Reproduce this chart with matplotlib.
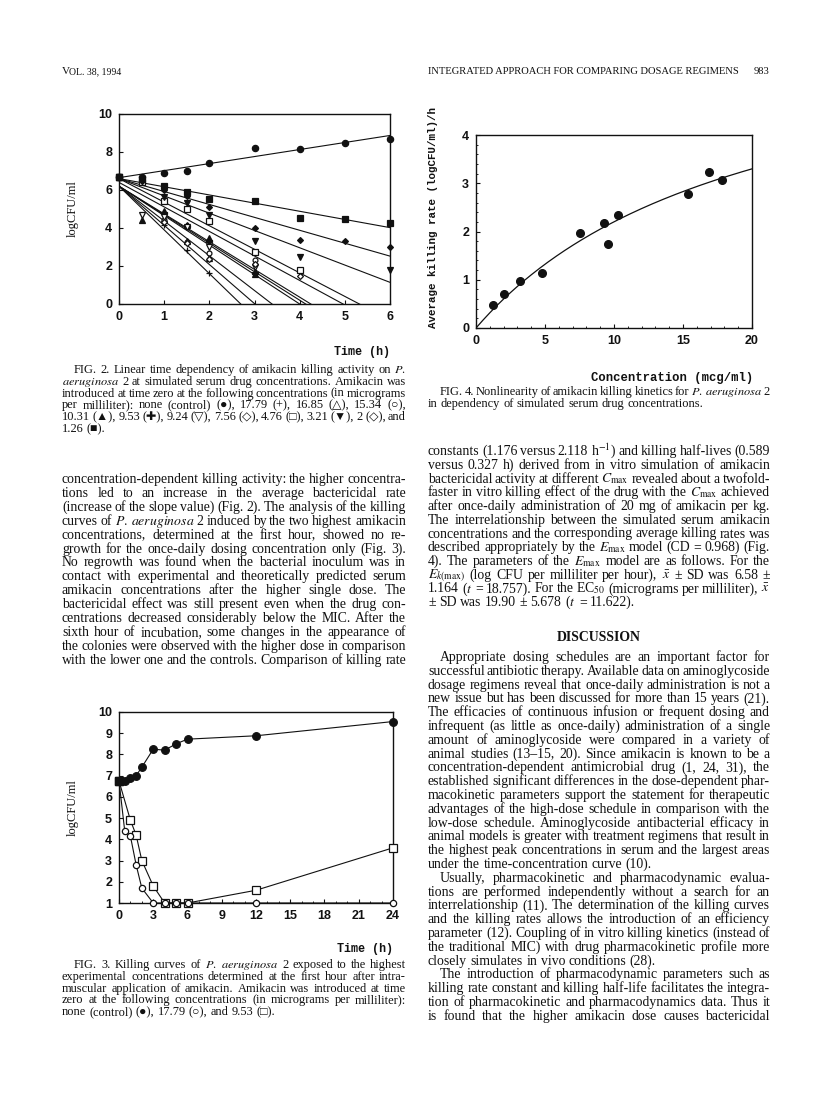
import matplotlib
matplotlib.use('Agg')
import matplotlib.pyplot as plt
import numpy as np
from matplotlib.ticker import MultipleLocator

plt.rcParams['mathtext.fontset'] = 'stix'
plt.rcParams['font.family'] = ['Liberation Serif', 'DejaVu Sans']

# ---------------- data ----------------
# Fig. 2: killing curves at 12 concentrations (0-6 h)
fig2_time = [0, 0.5, 1, 1.5, 2, 3, 4, 5, 6]
fig2_conc = ['control', '17.79', '16.85', '15.34', '10.31', '9.53', '9.24',
             '7.56', '4.76', '3.21', '2', '1.26']
nan = np.nan
fig2_values = {
    'control': [6.7, 6.7, 6.9, 7.0, 7.4, 8.2, 8.15, 8.45, 8.7],
    '17.79': [6.7, nan, 4.15, 2.85, 1.65, nan, nan, nan, nan],
    '16.85': [6.7, nan, 4.5, 3.3, 2.4, nan, nan, nan, nan],
    '15.34': [6.7, nan, 4.4, 3.25, 2.7, 2.3, nan, nan, nan],
    '10.31': [6.7, 4.4, 4.9, 4.15, 3.5, 1.6, nan, nan, nan],
    '9.53': [6.7, nan, 4.8, 4.1, 3.3, 1.65, nan, nan, nan],
    '9.24': [6.7, 4.7, 4.6, 4.05, 3.0, 1.95, nan, nan, nan],
    '7.56': [6.7, nan, 4.3, 3.2, 2.35, 2.1, 1.45, nan, nan],
    '4.76': [6.7, 6.4, 5.4, 5.0, 4.35, 2.75, 1.8, nan, nan],
    '3.21': [6.7, 6.5, 5.65, 5.3, 4.7, 3.3, 2.45, nan, 1.8],
    '2': [6.7, 6.5, 6.0, 5.7, 5.1, 4.0, 3.35, 3.3, 3.0],
    '1.26': [6.7, 6.6, 6.2, 5.9, 5.55, 5.4, 4.55, 4.45, 4.25],
}
# regression lines: intercept at t=0 and slope per hour
fig2_intercept = [6.65, 6.2, 6.2, 6.2, 6.2, 6.2, 6.2, 6.4, 6.6, 6.6, 6.6, 6.6]
fig2_slope = [0.37, -2.3, -2.06, -1.83, -1.55, -1.5, -1.46, -1.29, -1.24, -0.91, -0.68, -0.43]
fig2_marker = ['o', '+', '^', 'o', '^', 'P', 'v', 'D', 's', 'v', 'D', 's']
fig2_filled = [True, True, False, False, True, True, False, False, False, True, True, True]
fig2_msize = [4.5, 5, 4, 3.5, 4, 4.5, 4, 3, 4, 4, 3, 4]

# Fig. 3: killing curves 0-24 h
fig3_time = [0, 0.5, 1, 1.5, 2, 3, 4, 5, 6, 12, 24]
fig3_control = [6.75, 6.75, 6.9, 7.0, 7.4, 8.25, 8.2, 8.5, 8.72, 8.88, 9.55]
fig3_high = [6.75, 4.4, 4.15, 2.8, 1.7, 1.0, 1.0, 1.0, 1.0, 1.0, 1.0]
fig3_low = [6.75, nan, 4.9, 4.2, 3.0, 1.8, 1.0, 1.0, 1.0, 1.6, 3.6]

# Fig. 4: average killing rate vs concentration, Emax model
fig4_conc = [1.26, 2.0, 3.21, 4.76, 7.56, 9.24, 9.53, 10.31, 15.34, 16.85, 17.79]
fig4_rate = [0.47, 0.71, 0.98, 1.14, 1.96, 2.17, 1.74, 2.34, 2.77, 3.23, 3.06]
emax = 6.58
ec50 = 19.90

# ---------------- page text ----------------
# '>' = indented first line, '|' = last line of paragraph (not justified)
fig2_caption = [
    r'>FIG. 2. Linear time dependency of amikacin killing activity on $\mathit{P.}$',
    r'$\mathit{aeruginosa}$ 2 at simulated serum drug concentrations. Amikacin was',
    'introduced at time zero at the following concentrations (in micrograms',
    'per milliliter): none (control) (●), 17.79 (+), 16.85 (△), 15.34 (○),',
    '10.31 (▲), 9.53 (✚), 9.24 (▽), 7.56 (◇), 4.76 (□), 3.21 (▼), 2 (◇), and',
    '1.26 (■).|',
]
left_body = [
    'concentration-dependent killing activity: the higher concentra-',
    'tions led to an increase in the average bactericidal rate',
    '(increase of the slope value) (Fig. 2). The analysis of the killing',
    r'curves of $\mathit{P.}$ $\mathit{aeruginosa}$ 2 induced by the two highest amikacin',
    'concentrations, determined at the first hour, showed no re-',
    'growth for the once-daily dosing concentration only (Fig. 3).',
    'No regrowth was found when the bacterial inoculum was in',
    'contact with experimental and theoretically predicted serum',
    'amikacin concentrations after the higher single dose. The',
    'bactericidal effect was still present even when the drug con-',
    'centrations decreased considerably below the MIC. After the',
    'sixth hour of incubation, some changes in the appearance of',
    'the colonies were observed with the higher dose in comparison',
    'with the lower one and the controls. Comparison of killing rate',
]
fig3_caption = [
    r'>FIG. 3. Killing curves of $\mathit{P.}$ $\mathit{aeruginosa}$ 2 exposed to the highest',
    'experimental concentrations determined at the first hour after intra-',
    'muscular application of amikacin. Amikacin was introduced at time',
    'zero at the following concentrations (in micrograms per milliliter):',
    'none (control) (●), 17.79 (○), and 9.53 (□).|',
]
fig4_caption = [
    r'>FIG. 4. Nonlinearity of amikacin killing kinetics for $\mathit{P.}$ $\mathit{aeruginosa}$ 2',
    'in dependency of simulated serum drug concentrations.|',
]
right_top = [
    r'constants (1.176 versus 2.118 h$^{-1}$) and killing half-lives (0.589',
    'versus 0.327 h) derived from in vitro simulation of amikacin',
    r'bactericidal activity at different $C_\mathrm{max}$ revealed about a twofold-',
    r'faster in vitro killing effect of the drug with the $C_\mathrm{max}$ achieved',
    'after once-daily administration of 20 mg of amikacin per kg.',
    'The interrelationship between the simulated serum amikacin',
    'concentrations and the corresponding average killing rates was',
    r'described appropriately by the $E_\mathrm{max}$ model (CD = 0.968) (Fig.',
    r'4). The parameters of the $E_\mathrm{max}$ model are as follows. For the',
    r'$E_{k(\mathrm{max})}$ (log CFU per milliliter per hour), $\bar{x}$ ± SD was 6.58 ±',
    r'1.164 ($t$ = 18.757). For the EC$_{50}$ (micrograms per milliliter), $\bar{x}$',
    r'± SD was 19.90 ± 5.678 ($t$ = 11.622).|',
]
right_discussion = [
    '>Appropriate dosing schedules are an important factor for',
    'successful antibiotic therapy. Available data on aminoglycoside',
    'dosage regimens reveal that once-daily administration is not a',
    'new issue but has been discussed for more than 15 years (21).',
    'The efficacies of continuous infusion or frequent dosing and',
    'infrequent (as little as once-daily) administration of a single',
    'amount of aminoglycoside were compared in a variety of',
    'animal studies (13–15, 20). Since amikacin is known to be a',
    'concentration-dependent antimicrobial drug (1, 24, 31), the',
    'established significant differences in the dose-dependent phar-',
    'macokinetic parameters support the statement for therapeutic',
    'advantages of the high-dose schedule in comparison with the',
    'low-dose schedule. Aminoglycoside antibacterial efficacy in',
    'animal models is greater with treatment regimens that result in',
    'the highest peak concentrations in serum and the largest areas',
    'under the time-concentration curve (10).|',
    '>Usually, pharmacokinetic and pharmacodynamic evalua-',
    'tions are performed independently without a search for an',
    'interrelationship (11). The determination of the killing curves',
    'and the killing rates allows the introduction of an efficiency',
    'parameter (12). Coupling of in vitro killing kinetics (instead of',
    'the traditional MIC) with drug pharmacokinetic profile more',
    'closely simulates in vivo conditions (28).|',
    '>The introduction of pharmacodynamic parameters such as',
    'killing rate constant and killing half-life facilitates the integra-',
    'tion of pharmacokinetic and pharmacodynamics data. Thus it',
    'is found that the higher amikacin dose causes bactericidal',
]

# ---------------- figure ----------------
W, H = 816, 1095
INDENT = 12
fig = plt.figure(figsize=(W / 100, H / 100), dpi=100)
fig.patch.set_facecolor('white')
renderer = fig.canvas.get_renderer()
INK = '#111111'


def fx(x):
    return x / W


def fy(y):
    return 1 - y / H


def axes_px(l, t, r, b):
    return fig.add_axes([fx(l), fy(b), (r - l) / W, (b - t) / H])


def fit_size(lines, width, base=8.0, fill=0.975):
    # font size so that full lines need only slightly stretched spaces
    ratios = []
    for ln in lines:
        if ln.endswith('|'):
            continue
        target = width - (INDENT if ln.startswith('>') else 0)
        t = fig.text(0, 0, ln.lstrip('>'), fontsize=base)
        ratios.append(target / t.get_window_extent(renderer).width)
        t.remove()
    return base * float(np.median(ratios)) * fill


def text_line(x0, x1, y, line, size):
    # draws one justified line word by word
    justify = True
    if line.startswith('>'):
        line = line[1:]
        x0 += INDENT
    if line.endswith('|'):
        line = line[:-1]
        justify = False
    words = line.split(' ')
    arts = [fig.text(0, fy(y), w, fontsize=size, va='baseline', ha='left', color=INK)
            for w in words]
    widths = [a.get_window_extent(renderer).width for a in arts]
    gap = size * 0.25 * 100 / 72
    if justify and len(arts) > 1:
        gap = (x1 - x0 - sum(widths)) / (len(arts) - 1)
    x = x0
    for a, w in zip(arts, widths):
        a.set_x(fx(x))
        x += w + gap


def block(x0, x1, y0, step, lines, size):
    for i, ln in enumerate(lines):
        text_line(x0, x1, y0 + i * step, ln, size)


tick_fp = matplotlib.font_manager.FontProperties(family='Liberation Sans', weight='bold', size=9)
mono = dict(family='Liberation Mono', weight='bold', color=INK)


def style_axes(ax):
    for s in ax.spines.values():
        s.set_linewidth(1.0)
        s.set_color(INK)
    ax.tick_params(direction='in', length=3, width=0.8, pad=5, colors=INK)
    ax.tick_params(which='minor', direction='in', length=1.5, width=0.6)
    for lab in ax.get_xticklabels() + ax.get_yticklabels():
        lab.set_fontproperties(tick_fp)


body_size = fit_size(left_body + right_top + right_discussion, 344)
cap_size = fit_size(fig2_caption + fig3_caption + fig4_caption, 344)

# header
fig.text(fx(62), fy(74), 'V', fontsize=8, va='baseline', color=INK)
fig.text(fx(69), fy(74), 'OL. 38, 1994', fontsize=7, va='baseline', color=INK)
fig.text(fx(428), fy(74), 'INTEGRATED APPROACH FOR COMPARING DOSAGE REGIMENS',
         fontsize=7.6, va='baseline', color=INK)
fig.text(fx(769), fy(74), '983', fontsize=7.6, va='baseline', ha='right', color=INK)

# ----- Fig. 2 -----
ax2 = axes_px(119, 114, 390, 304)
t2 = np.array(fig2_time)
tline = np.array([0, 6])
for i, name in enumerate(fig2_conc):
    ax2.plot(tline, fig2_intercept[i] + fig2_slope[i] * tline, color=INK, lw=0.8)
    y = np.array(fig2_values[name])
    m = ~np.isnan(y)
    face = INK if fig2_filled[i] else 'white'
    ax2.plot(t2[m], y[m], linestyle='none', marker=fig2_marker[i], ms=fig2_msize[i],
             mfc=face, mec=INK, mew=0.9, clip_on=False, zorder=3)
ax2.set_xlim(0, 6)
ax2.set_ylim(0, 10)
ax2.xaxis.set_major_locator(MultipleLocator(1))
ax2.yaxis.set_major_locator(MultipleLocator(2))
style_axes(ax2)
fig.text(fx(73), fy(209), 'logCFU/ml', rotation=90, fontsize=9, ha='center', va='center',
         color=INK)
fig.text(fx(390), fy(352), 'Time (h)', fontsize=8.5, ha='right', va='center', **mono)
block(62, 406, 373, 11.8, fig2_caption, cap_size)

# ----- left body text -----
block(62, 406, 483, 13.9, left_body, body_size)

# ----- Fig. 3 -----
ax3 = axes_px(119, 712, 393, 903)
t3 = np.array(fig3_time)
for vals, mk, face, ms in [(fig3_control, 'o', INK, 5.5),
                           (fig3_low, 's', 'white', 5.5),
                           (fig3_high, 'o', 'white', 4.5)]:
    y = np.array(vals)
    m = ~np.isnan(y)
    ax3.plot(t3[m], y[m], color=INK, lw=0.8, marker=mk, ms=ms, mfc=face,
             mec=INK, mew=0.9, clip_on=False, zorder=3)
ax3.plot(fig3_time[:1], fig3_control[:1], marker='s', ms=5.5, color=INK, clip_on=False,
         zorder=4)
ax3.set_xlim(0, 24)
ax3.set_ylim(1, 10)
ax3.xaxis.set_major_locator(MultipleLocator(3))
ax3.xaxis.set_minor_locator(MultipleLocator(1))
ax3.yaxis.set_major_locator(MultipleLocator(1))
style_axes(ax3)
fig.text(fx(73), fy(808), 'logCFU/ml', rotation=90, fontsize=9, ha='center', va='center',
         color=INK)
fig.text(fx(393), fy(949), 'Time (h)', fontsize=8.5, ha='right', va='center', **mono)
block(62, 406, 968, 11.8, fig3_caption, cap_size)

# ----- Fig. 4 -----
ax4 = axes_px(476, 135, 752, 328)
cgrid = np.linspace(0, 20, 200)
ax4.plot(cgrid, emax * cgrid / (ec50 + cgrid), color=INK, lw=0.9)
ax4.plot(fig4_conc, fig4_rate, linestyle='none', marker='o', ms=5.5, color=INK, zorder=3)
ax4.set_xlim(0, 20)
ax4.set_ylim(0, 4)
ax4.xaxis.set_major_locator(MultipleLocator(5))
ax4.xaxis.set_minor_locator(MultipleLocator(1))
ax4.yaxis.set_major_locator(MultipleLocator(1))
ax4.yaxis.set_minor_locator(MultipleLocator(0.2))
style_axes(ax4)
fig.text(fx(433), fy(217), 'Average killing rate (logCFU/ml)/h', rotation=90,
         fontsize=7.8, ha='center', va='center', **mono)
fig.text(fx(753), fy(378), 'Concentration (mcg/ml)', fontsize=8.8, ha='right',
         va='center', **mono)
block(428, 770, 395, 11.8, fig4_caption, cap_size)

# ----- right column text -----
block(428, 770, 455, 13.75, right_top, body_size)
fig.text(fx(599), fy(641), 'DISCUSSION', fontsize=body_size, weight='bold', ha='center',
         va='baseline', color=INK)
block(428, 770, 661, 13.8, right_discussion, body_size)

fig.savefig('out.png', dpi=100, facecolor='white')
